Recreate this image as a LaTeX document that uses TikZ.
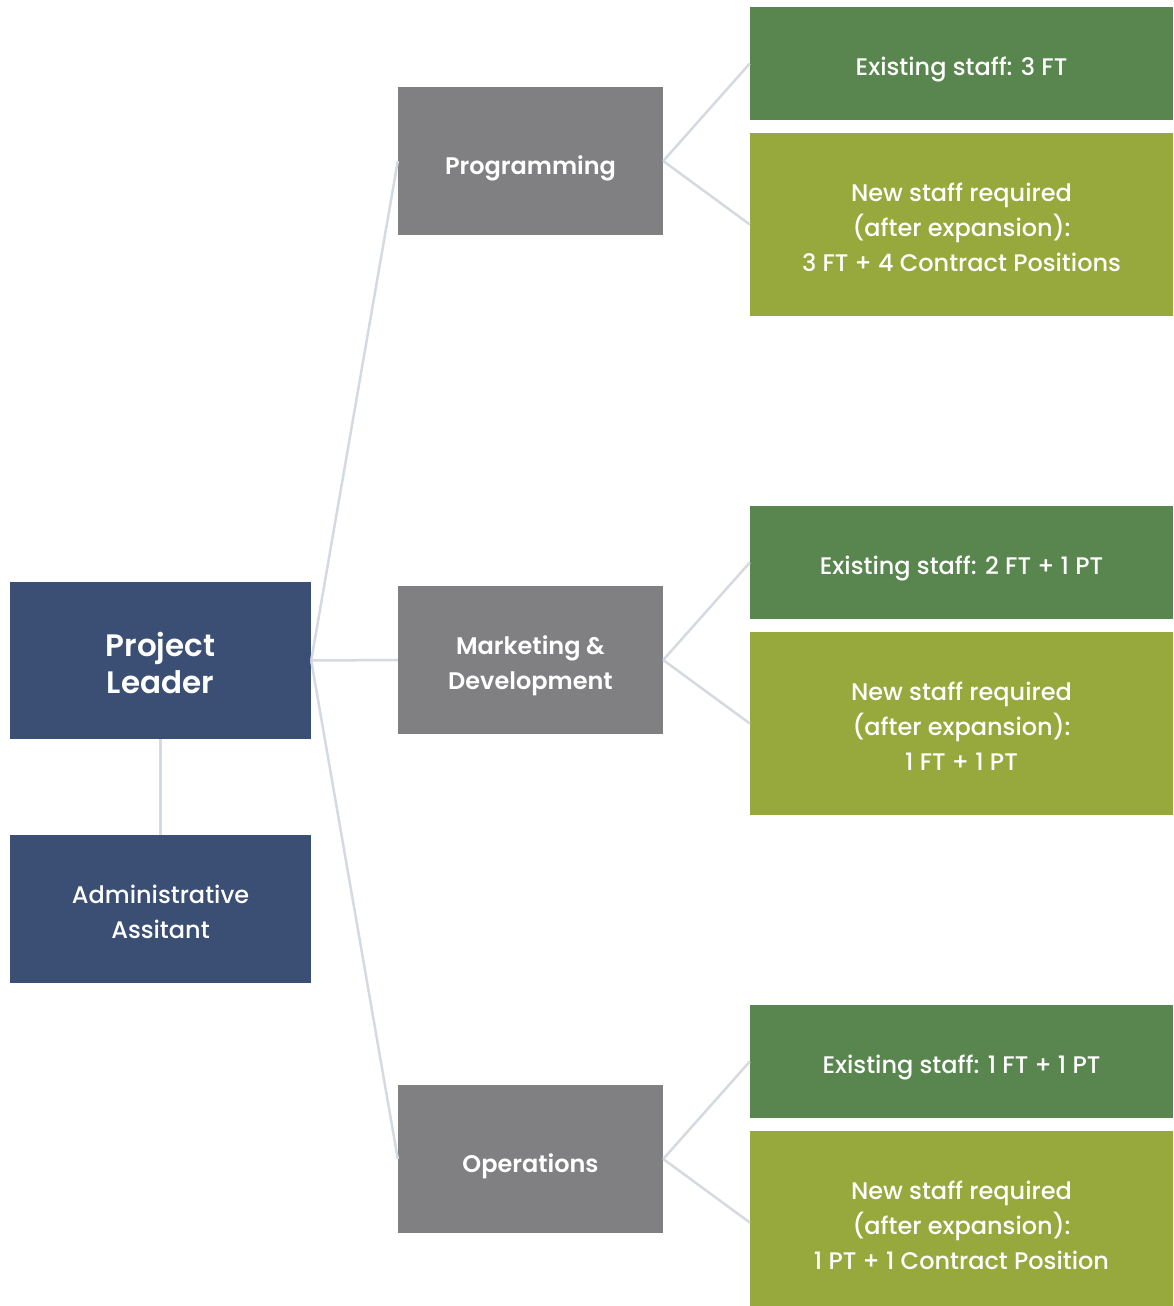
\documentclass[tikz,border=0pt]{standalone}
\usepackage{fontspec}
\setmainfont{Poppins}[UprightFont=* Medium, BoldFont=* SemiBold]
\usepackage{tikz}
\usetikzlibrary{calc}
\definecolor{leadblue}{RGB}{58,79,115}
\definecolor{teamgrey}{RGB}{128,128,130}
\definecolor{staffgreen}{RGB}{88,134,78}
\definecolor{newolive}{RGB}{151,168,60}
\definecolor{linkgrey}{RGB}{213,217,224}
\newcommand{\drawlink}{\draw[linkgrey, line width=2.5pt]}
\tikzset{
    box/.style={inner sep=0pt, align=center, text=white, text depth=0pt, font=\fontsize{24}{35}\selectfont},
    leadbox/.style={box, fill=leadblue, minimum width=301pt, minimum height=157pt, text height=66.4pt},
    adminbox/.style={box, fill=leadblue, minimum width=301pt, minimum height=148pt, text height=59.4pt},
    teambox/.style={box, fill=teamgrey, minimum width=265pt, minimum height=148pt, font=\fontsize{24}{35}\selectfont\bfseries},
    existbox/.style={box, fill=staffgreen, minimum width=423pt, minimum height=113pt, text height=24.4pt},
    newbox/.style={box, fill=newolive, minimum width=423pt, minimum height=183pt, text height=94.4pt},
}

\begin{document}
\begin{tikzpicture}[x=1pt, y=-1pt]
    \useasboundingbox (0, 0) rectangle (1173, 1306);
    \clip (0, 0) rectangle (1173, 1306);

    % Draw leader and assistant
    \node[leadbox, font=\fontsize{31}{37}\selectfont\bfseries] (lead) at (160.5, 660.5) {Project\\Leader};
    \node[adminbox] (admin) at (160.5, 909) {Administrative\\Assitant};

    % Draw teams
    \node[teambox, text height=26.6pt] (prog) at (530.5, 161) {Programming};
    \node[teambox, text height=58.6pt] (mark) at (530.5, 660) {Marketing \&\\Development};
    \node[teambox, text height=26.6pt] (oper) at (530.5, 1159) {Operations};

    % Draw staff boxes
    \node[existbox] (progold) at (961.5, 63.5) {Existing staff: 3 FT};
    \node[newbox] (prognew) at (961.5, 224.5) {New staff required\\(after expansion):\\3 FT + 4 Contract Positions};
    \node[existbox] (markold) at (961.5, 562.5) {Existing staff: 2 FT + 1 PT};
    \node[newbox] (marknew) at (961.5, 723.5) {New staff required\\(after expansion):\\1 FT + 1 PT};
    \node[existbox] (operold) at (961.5, 1061.5) {Existing staff: 1 FT + 1 PT};
    \node[newbox] (opernew) at (961.5, 1222.5) {New staff required\\(after expansion):\\1 PT + 1 Contract Position};

    % Draw links
    \drawlink (lead.south) -- (admin.north);
    \drawlink (lead.east) -- (prog.west);
    \drawlink (lead.east) -- (mark.west);
    \drawlink (lead.east) -- (oper.west);
    \drawlink (prog.east) -- (progold.west);
    \drawlink (prog.east) -- (prognew.west);
    \drawlink (mark.east) -- (markold.west);
    \drawlink (mark.east) -- (marknew.west);
    \drawlink (oper.east) -- (operold.west);
    \drawlink (oper.east) -- (opernew.west);
\end{tikzpicture}
\end{document}
